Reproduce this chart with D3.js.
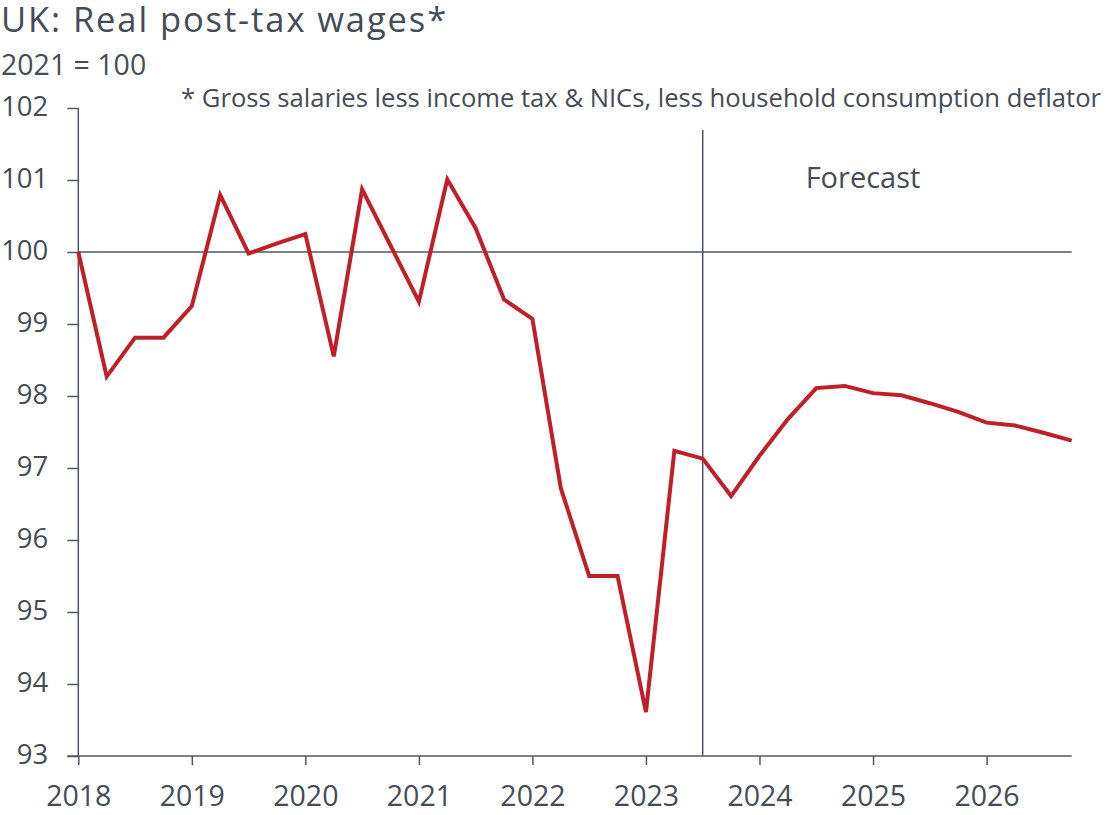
<!DOCTYPE html>
<html>
<head>
<meta charset="utf-8">
<script src="https://cdn.jsdelivr.net/npm/d3@7"></script>
<style>
  html, body { margin: 0; padding: 0; background: #ffffff; }
  svg text { font-family: "Open Sans", "Noto Sans", sans-serif; fill: #454c57; }
</style>
</head>
<body>
<svg id="chart" width="1107" height="815"></svg>
<script>
// Quarterly periods, 2018 Q1 .. 2026 Q4 (decimal years)
const quarters = d3.range(36).map(i => 2018 + i / 4);

// Real post-tax wages index, 2021 = 100
const wages = [
  100.00, 98.27, 98.81, 98.81,
  99.25, 100.79, 99.98, 100.12,
  100.25, 98.55, 100.87, 100.09,
  99.31, 101.01, 100.33, 99.34,
  99.07, 96.72, 95.50, 95.50,
  93.61, 97.24, 97.13, 96.61,
  97.17, 97.68, 98.11, 98.14,
  98.04, 98.01, 97.90, 97.78,
  97.63, 97.59, 97.49, 97.38
];

const yearTicks = [2018, 2019, 2020, 2021, 2022, 2023, 2024, 2025, 2026];
const valueTicks = [93, 94, 95, 96, 97, 98, 99, 100, 101, 102];
const forecastStart = 2023.5;
const baseline = 100;

const title = "UK: Real post-tax wages*";
const subtitle = "2021 = 100";
const footnote = "* Gross salaries less income tax & NICs, less household consumption deflator";
const forecastLabel = "Forecast";

const svg = d3.select("#chart");
const axisColor = "#505866";
const lineColor = "#c01f28";

const x = d3.scaleLinear().domain([2018, 2026.75]).range([78.3, 1071.7]);
const y = d3.scaleLinear().domain([93, 102]).range([756, 108]);

// Headings
svg.append("text").attr("x", 1).attr("y", 32)
  .attr("font-size", 34.5).attr("letter-spacing", 1.9).text(title);
svg.append("text").attr("x", 1).attr("y", 75)
  .attr("font-size", 28.5).text(subtitle);
svg.append("text").attr("x", 1101).attr("y", 107)
  .attr("text-anchor", "end").attr("font-size", 25.6).text(footnote);

// Reference line at 100
svg.append("line")
  .attr("x1", x(2018)).attr("x2", x(2026.75))
  .attr("y1", y(baseline)).attr("y2", y(baseline))
  .attr("stroke", axisColor).attr("stroke-width", 1.5);

// Forecast divider
svg.append("line")
  .attr("x1", x(forecastStart)).attr("x2", x(forecastStart))
  .attr("y1", 130).attr("y2", y(93))
  .attr("stroke", axisColor).attr("stroke-width", 1.5);
svg.append("text")
  .attr("x", 863).attr("y", 188)
  .attr("text-anchor", "middle").attr("font-size", 29)
  .text(forecastLabel);

// Y axis
const yAxis = d3.axisLeft(y).tickValues(valueTicks).tickSize(11).tickPadding(19).tickFormat(d3.format("d"));
const gy = svg.append("g").attr("transform", `translate(${x(2018)},0)`).call(yAxis);
gy.select(".domain").attr("stroke", axisColor).attr("stroke-width", 1.5).attr("d", `M0,${y(102)}V${y(93)}`);
gy.selectAll(".tick line").attr("stroke", axisColor).attr("stroke-width", 1.5);
gy.selectAll(".tick text").attr("font-size", 27.5).attr("dy", 7.5).attr("fill", "#454c57");

// X axis
const xAxis = d3.axisBottom(x).tickValues(yearTicks).tickSize(9).tickFormat(d3.format("d"));
const gx = svg.append("g").attr("transform", `translate(0,${y(93)})`).call(xAxis);
gx.select(".domain").attr("stroke", axisColor).attr("stroke-width", 1.5).attr("d", `M${x(2018) - 11},0H${x(2026.75)}`);
gx.selectAll(".tick line").attr("stroke", axisColor).attr("stroke-width", 1.5);
gx.selectAll(".tick text").attr("font-size", 28.5).attr("y", 50).attr("dy", 0).attr("fill", "#454c57");

// Wage series
const line = d3.line().x((d, i) => x(quarters[i])).y(d => y(d));
svg.append("path")
  .datum(wages)
  .attr("d", line)
  .attr("fill", "none")
  .attr("stroke", lineColor)
  .attr("stroke-width", 4)
  .attr("stroke-linejoin", "miter");
</script>
</body>
</html>
